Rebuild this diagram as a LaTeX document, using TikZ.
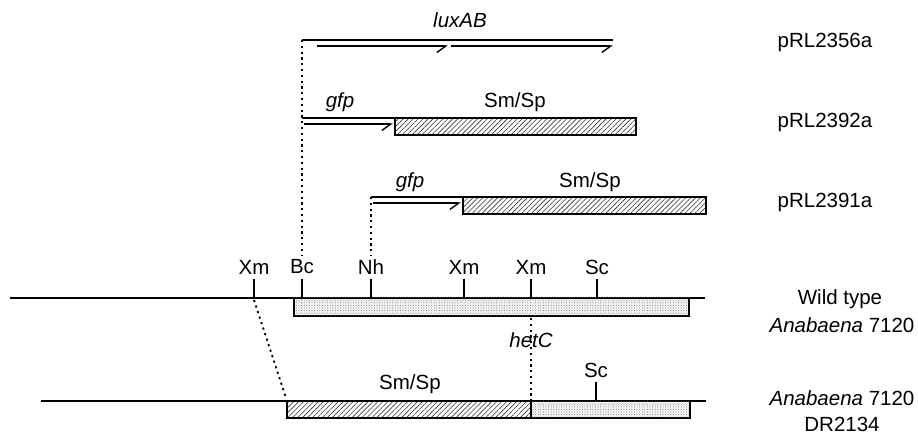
\documentclass[tikz,border=0pt]{standalone}
\usepackage{fontspec}
\setmainfont{Liberation Sans}
\usetikzlibrary{arrows.meta,patterns.meta}
\begin{document}
\begin{tikzpicture}[x=1pt,y=-1pt,
  lbl/.style={font=\fontsize{20.5}{24}\selectfont, inner sep=0pt},
  ilbl/.style={font=\fontsize{20.5}{24}\selectfont\itshape, inner sep=0pt},
  dna/.style={line width=1.7pt},
  tick/.style={line width=1.5pt},
  harp/.style={line width=1.6pt, -{Straight Barb[right,length=9pt,width=13pt,line width=1.4pt]}},
  hatchbox/.style={draw, line width=1.5pt, pattern={Lines[angle=45,distance=3.5pt,line width=0.6pt]}, pattern color=black!80},
  stipbox/.style={draw, line width=1.5pt, fill=black!6, postaction={pattern={Dots[distance=2.6pt,radius=0.45pt]}, pattern color=black!60}},
  dotline/.style={line width=1.8pt, dash pattern=on 2.2pt off 3.6pt},
]
\useasboundingbox (0,0) rectangle (918,438);

% ---------- pRL2356a ----------
\coordinate (a0) at (302,40);
\coordinate (a1) at (613,40);
\draw[dna] (a0) -- (a1);
\coordinate (a2) at (317,46);
\coordinate (a3) at (448,46);
\coordinate (a4) at (451,46);
\coordinate (a5) at (613,46);
\draw[harp] (a2) -- (a3);
\draw[harp] (a4) -- (a5);
\node[ilbl] (luxab) at (460,20) {luxAB};
\node[lbl] (p1) at (825,42) {pRL2356a};

% ---------- pRL2392a ----------
\coordinate (b0) at (302,118);
\coordinate (b1) at (395,118);
\draw[dna] (b0) -- (b1);
\draw[hatchbox] (395,118) rectangle (636,135);
\coordinate (b2) at (304,124);
\coordinate (b3) at (393,124);
\draw[harp] (b2) -- (b3);
\node[ilbl] (gfp1) at (340,102) {gfp};
\node[lbl] (sm1) at (515,102) {Sm/Sp};
\node[lbl] (p2) at (825,122) {pRL2392a};

% ---------- pRL2391a ----------
\coordinate (c0) at (371,197);
\coordinate (c1) at (463,197);
\draw[dna] (c0) -- (c1);
\draw[hatchbox] (463,197) rectangle (706,214);
\coordinate (c2) at (373,203);
\coordinate (c3) at (461,203);
\draw[harp] (c2) -- (c3);
\node[ilbl] (gfp2) at (410,182) {gfp};
\node[lbl] (sm2) at (590,182) {Sm/Sp};
\node[lbl] (p3) at (825,202) {pRL2391a};

% ---------- wild type ----------
\coordinate (w0) at (10,298);
\coordinate (w1) at (705,298);
\draw[dna] (w0) -- (w1);
\draw[stipbox] (294,298) rectangle (689,316);
\foreach \n/\x/\t in {xm1/254/Xm, bc/302/Bc, nh/371/Nh, xm2/464/Xm, xm3/531/Xm, sc1/597/Sc}{
  \node[lbl] (\n) at (\x,267) {\t};
  \draw[tick] (\x,279) -- (\x,298);
}
\node[ilbl] (hetc) at (531,340) {hetC};
\node[lbl] (wt1) at (840,299) {Wild type};
\node[lbl] (wt2) at (842,325) {\textit{Anabaena} 7120};

% dotted guide lines
\draw[dotline] (a0) -- (302,256);
\draw[dotline] (c0) -- (371,256);
\coordinate (xmA) at (254,300);
\coordinate (xmB) at (286,398);
\draw[dotline] (xmA) -- (xmB);
\coordinate (xmC) at (531,318);
\coordinate (xmD) at (531,400);
\draw[dotline] (xmC) -- (xmD);

% ---------- DR2134 ----------
\coordinate (m0) at (41,401);
\coordinate (m1) at (706,401);
\draw[dna] (m0) -- (m1);
\draw[hatchbox] (287,401) rectangle (531,418);
\draw[stipbox] (531,401) rectangle (690,418);
\node[lbl] (sc2) at (596,370) {Sc};
\draw[tick] (596,382) -- (596,401);
\node[lbl] (sm3) at (410,384) {Sm/Sp};
\node[lbl] (mu1) at (842,398) {\textit{Anabaena} 7120};
\node[lbl] (mu2) at (842,424) {DR2134};
\end{tikzpicture}
\end{document}
